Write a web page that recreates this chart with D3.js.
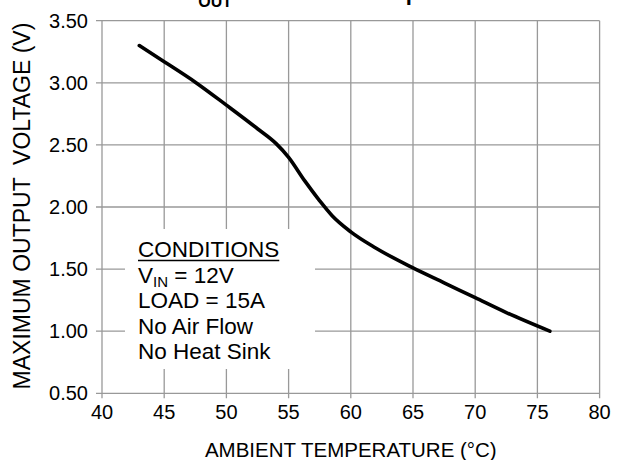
<!DOCTYPE html>
<html>
<head>
  <meta charset="utf-8">
  <title>Max Vout vs Temp</title>
  <script src="https://cdn.jsdelivr.net/npm/d3@7/dist/d3.min.js"></script>
  <style type="text/css">
  html, body {
    margin: 0;
    padding: 0;
    background-color: #fff;
  }
  text {
    font-family: "Liberation Sans", Arial, sans-serif;
    fill: #000;
  }
  .grid line {
    stroke: #999;
    stroke-width: 1.3px;
  }
  .curve {
    fill: none;
    stroke: #000;
    stroke-width: 3.6px;
    stroke-linecap: round;
  }
  </style>
</head>
<body>
  <div id="chart"></div>
<script>
// curve: ambient temperature (C) -> max output voltage (V)
var temps = [43, 45, 47.5, 50, 52.5, 54, 55, 56.3, 57.5, 58.5, 60, 62, 65, 67.5, 70, 72.5, 76];
var volts = [3.30, 3.17, 3.005, 2.82, 2.63, 2.51, 2.40, 2.21, 2.05, 1.93, 1.80, 1.67, 1.51, 1.39, 1.27, 1.15, 1.00];

var xTicks = [40, 45, 50, 55, 60, 65, 70, 75, 80];
var yTicks = [0.5, 1.0, 1.5, 2.0, 2.5, 3.0, 3.5];

var conditions = ["CONDITIONS", "V|IN| = 12V", "LOAD = 15A", "No Air Flow", "No Heat Sink"];

var width = 641,
    height = 460;
var pLeft = 102, pRight = 599.6, pTop = 20.7, pBottom = 393.3;

var svg = d3.select("#chart").append("svg")
            .attr("width", width)
            .attr("height", height);

var x = d3.scaleLinear().domain([40, 80]).range([pLeft, pRight]);
var y = d3.scaleLinear().domain([0.5, 3.5]).range([pBottom, pTop]);

// grid + outer ticks
var grid = svg.append("g").attr("class", "grid");
grid.selectAll(".vx")
    .data(xTicks)
    .enter().append("line")
    .attr("x1", function(d) { return x(d); })
    .attr("x2", function(d) { return x(d); })
    .attr("y1", pTop)
    .attr("y2", pBottom + 5);
grid.selectAll(".hy")
    .data(yTicks)
    .enter().append("line")
    .attr("x1", pLeft - 6)
    .attr("x2", pRight)
    .attr("y1", function(d) { return y(d); })
    .attr("y2", function(d) { return y(d); });

// tick labels
svg.selectAll(".xl")
   .data(xTicks)
   .enter().append("text")
   .attr("x", function(d) { return x(d); })
   .attr("y", pBottom + 26)
   .attr("text-anchor", "middle")
   .style("font-size", "20px")
   .text(function(d) { return d; });

svg.selectAll(".yl")
   .data(yTicks)
   .enter().append("text")
   .attr("x", pLeft - 14)
   .attr("y", function(d) { return y(d) + 7; })
   .attr("text-anchor", "end")
   .style("font-size", "20px")
   .text(function(d) { return d3.format(".2f")(d); });

// axis titles
svg.append("text")
   .attr("x", (pLeft + pRight) / 2)
   .attr("y", 457)
   .attr("text-anchor", "middle")
   .style("font-size", "20.5px")
   .text("AMBIENT TEMPERATURE (\u00b0C)");

svg.append("text")
   .attr("transform", "translate(30,206) rotate(-90)")
   .attr("text-anchor", "middle")
   .style("font-size", "23px")
   .style("white-space", "pre")
   .text("MAXIMUM OUTPUT  VOLTAGE (V)");

// title, mostly cut off at the top edge
var title = svg.append("text")
   .attr("x", 76)
   .attr("y", -0.5)
   .style("font-size", "22px")
   .style("font-weight", "bold");
title.append("tspan").text("Maximum V");
title.append("tspan").attr("dy", 7.5).style("font-size", "16px").text("OUT");
title.append("tspan").attr("dy", -7.5).text(" vs Ambient Temperature");

// conditions box (white, covers the grid)
svg.append("rect")
   .attr("x", 125)
   .attr("y", 229)
   .attr("width", 190)
   .attr("height", 140)
   .attr("fill", "#fff");

var cond = svg.append("g");
conditions.forEach(function(s, i) {
  var t = cond.append("text")
              .attr("x", 138)
              .attr("y", 257 + i * 25.6)
              .style("font-size", "22.5px");
  if (s.indexOf("|") != -1) {
    var parts = s.split("|");
    t.append("tspan").text(parts[0]);
    t.append("tspan").attr("dy", 4).style("font-size", "15px").text(parts[1]);
    t.append("tspan").attr("dy", -4).text(parts[2]);
  } else {
    t.text(s);
  }
  if (i == 0) {
    var w = t.node().getComputedTextLength();
    cond.append("line")
        .attr("x1", 138).attr("x2", 138 + w)
        .attr("y1", 260.5).attr("y2", 260.5)
        .attr("stroke", "#000")
        .attr("stroke-width", 1.4);
  }
});

// the curve
var pts = temps.map(function(t, i) { return [t, volts[i]]; });
var line = d3.line()
             .x(function(d) { return x(d[0]); })
             .y(function(d) { return y(d[1]); })
             .curve(d3.curveMonotoneX);

svg.append("path")
   .datum(pts)
   .attr("class", "curve")
   .attr("d", line);
</script>
</body>
</html>
